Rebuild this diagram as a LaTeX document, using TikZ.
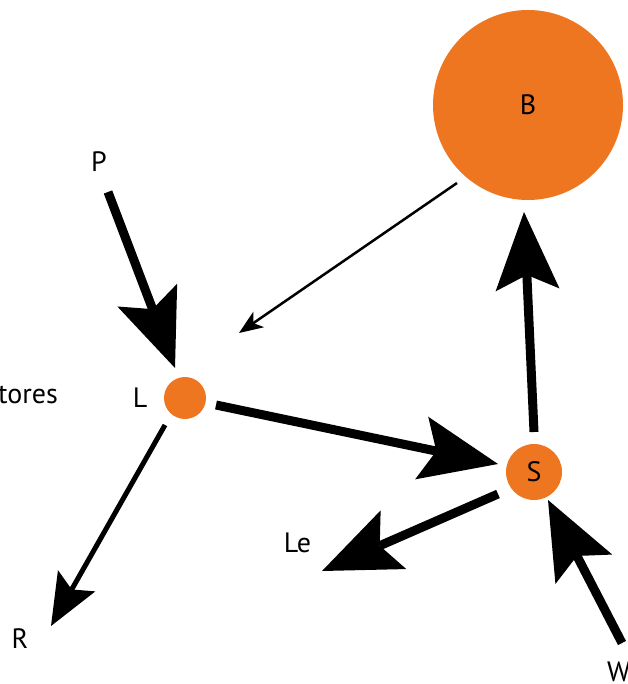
\documentclass[tikz,border=0pt]{standalone}
\usepackage{fontspec}
\setmainfont{PT Sans}
\usetikzlibrary{arrows.meta}
\definecolor{orng}{RGB}{239,118,33}
\begin{document}
\begin{tikzpicture}[x=1pt,y=-1pt,
  dot/.style={circle,fill=orng,inner sep=0pt,minimum size=#1},
  lbl/.style={font=\fontsize{28}{32}\selectfont,inner sep=0pt},
  bigarr/.style={line width=9pt,-{Stealth[length=78pt,width=64pt,inset=15pt,line width=0pt]}},
  midarr/.style={line width=5pt,-{Stealth[length=52pt,width=43pt,inset=10pt,line width=0pt]}},
  thinarr/.style={line width=2.5pt,-{Stealth[length=24pt,width=19pt,inset=6.5pt,line width=0pt]}},
]
\useasboundingbox (0,0) rectangle (627,684);
% circles
\node[dot=190pt,lbl] (B) at (528,105) {B};
\node[dot=42pt] (L) at (185,398) {};
\node[dot=56pt,lbl] (S) at (534,472) {S};
% labels
\node[lbl,anchor=base] (P) at (99,172) {P};
\node[lbl,anchor=base] (Ltxt) at (140,407) {L};
\node[lbl,anchor=base east] (tores) at (58,403) {tores};
\node[lbl,anchor=base] (Le) at (297.5,552) {Le};
\node[lbl,anchor=base] (R) at (20,648) {R};
\node[lbl,anchor=base west] (W) at (607,681) {W};
% connector ends
\coordinate (p1) at (108,192); \coordinate (p2) at (175,368);
\coordinate (l1) at (216,405); \coordinate (s1) at (498,464);
\coordinate (s2) at (534,432); \coordinate (b1) at (524,212);
\coordinate (s3) at (498,494); \coordinate (le1) at (322,571);
\coordinate (w1) at (622,643); \coordinate (s4) at (548,500);
\coordinate (l2) at (165,425); \coordinate (r1) at (51,626);
\coordinate (b2) at (457,183); \coordinate (l3) at (239,333);
% connectors
\draw[bigarr] (p1) -- (p2);
\draw[bigarr] (l1) -- (s1);
\draw[bigarr] (s2) -- (b1);
\draw[bigarr] (s3) -- (le1);
\draw[bigarr] (w1) -- (s4);
\draw[midarr] (l2) -- (r1);
\draw[thinarr] (b2) -- (l3);
\end{tikzpicture}
\end{document}
